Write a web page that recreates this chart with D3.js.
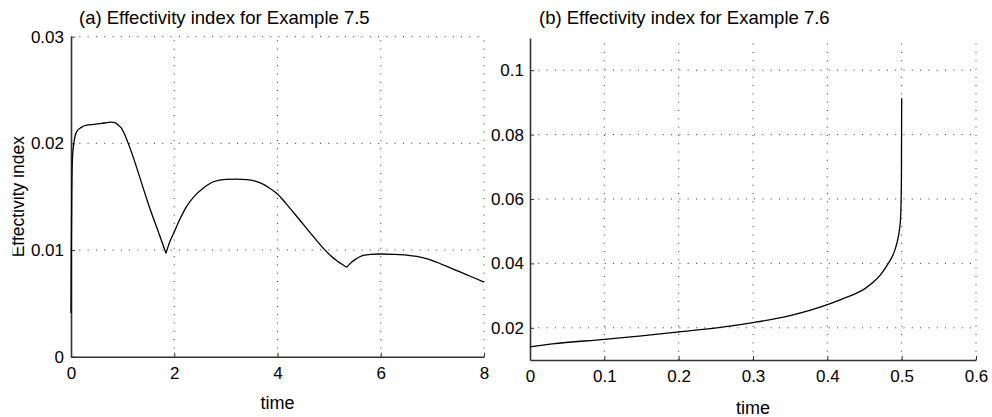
<!DOCTYPE html>
<html>
<head>
<meta charset="utf-8">
<script src="https://cdn.jsdelivr.net/npm/d3@7"></script>
<style>
  body { margin: 0; background: #fff; }
  svg { display: block; font-family: "Liberation Sans", Arial, Helvetica, sans-serif; }
</style>
</head>
<body>
<div id="chart"></div>
<script>
// (a) Example 7.5 - effectivity index over time
var timeA = [0, 0.005, 0.015, 0.03, 0.06, 0.11, 0.2, 0.3, 0.45, 0.6, 0.7, 0.78, 0.85, 0.92, 0.98, 1.06, 1.14, 1.22, 1.3, 1.5, 1.7, 1.84,
             1.9, 2.0, 2.12, 2.24, 2.4, 2.56, 2.76, 3.0, 3.2, 3.4, 3.55, 3.7, 3.85, 4.0, 4.15, 4.31, 4.47, 4.63, 4.76, 4.89, 5.02, 5.15, 5.25, 5.34,
             5.4, 5.5, 5.66, 5.8, 6.0, 6.25, 6.5, 6.7, 6.9, 7.1, 7.28, 7.5, 7.67, 7.85, 8.0];
var effA = [0.0041, 0.0095, 0.0155, 0.0188, 0.0202, 0.0211, 0.0215, 0.0217, 0.02178, 0.02187, 0.02195, 0.0220, 0.02195, 0.0217, 0.0214, 0.0206, 0.0196, 0.0185, 0.0173, 0.0143, 0.0116, 0.0097,
            0.0106, 0.0117, 0.0130, 0.0141, 0.0151, 0.0158, 0.0164, 0.01663, 0.01665, 0.0166, 0.01648, 0.01622, 0.0158, 0.01525, 0.01445, 0.01352, 0.01258, 0.01164, 0.01088, 0.01015, 0.00952, 0.0090, 0.00866, 0.00838,
            0.0087, 0.0091, 0.0095, 0.00960, 0.00963, 0.00960, 0.00953, 0.00940, 0.00918, 0.00883, 0.00847, 0.00802, 0.00767, 0.00731, 0.00700];
var cuspsA = [21, 45]; // indices where the curve has a corner

// (b) Example 7.6
var timeB = [0, 0.03, 0.1, 0.15, 0.2, 0.256, 0.3, 0.35, 0.4, 0.417, 0.435, 0.45, 0.462, 0.472, 0.482, 0.489, 0.4935, 0.497, 0.4985, 0.4993, 0.4997, 0.5];
var effB = [0.0141, 0.0150, 0.0164, 0.0175, 0.0187, 0.0201, 0.0216, 0.0238, 0.0272, 0.0287, 0.0303, 0.0321, 0.0342, 0.0366, 0.0400, 0.0430, 0.0462, 0.0505, 0.0540, 0.0600, 0.0680, 0.0913];

var xTicksA = [0, 2, 4, 6, 8];
var yTicksA = [0, 0.01, 0.02, 0.03];
var xTicksB = [0, 0.1, 0.2, 0.3, 0.4, 0.5, 0.6];
var yTicksB = [0.02, 0.04, 0.06, 0.08, 0.1];

var W = 992, H = 417;

var svg = d3.select("#chart").append("svg")
  .attr("width", W)
  .attr("height", H);

function drawPanel(opt) {
  var x = d3.scaleLinear().domain(opt.xDomain).range(opt.xRange);
  var y = d3.scaleLinear().domain(opt.yDomain).range(opt.yRange);
  var g = svg.append("g");

  // dotted grid
  g.selectAll(".vgrid").data(opt.xTicks.filter(function (d) { return d !== opt.xDomain[0]; }))
    .enter().append("line")
    .attr("x1", function (d) { return x(d); })
    .attr("x2", function (d) { return x(d); })
    .attr("y1", opt.yRange[0])
    .attr("y2", opt.yRange[1])
    .attr("stroke", "#333")
    .attr("stroke-width", 1)
    .attr("stroke-dasharray", "1,7.3");
  g.selectAll(".hgrid").data(opt.yTicks.filter(function (d) { return d !== opt.yDomain[0]; }))
    .enter().append("line")
    .attr("x1", opt.xRange[0])
    .attr("x2", opt.xRange[1])
    .attr("y1", function (d) { return y(d); })
    .attr("y2", function (d) { return y(d); })
    .attr("stroke", "#333")
    .attr("stroke-width", 1)
    .attr("stroke-dasharray", "1,7.3");

  // axes, ticks pointing inward
  var xAxis = g.append("g")
    .attr("transform", "translate(0," + opt.yRange[0] + ")")
    .call(d3.axisBottom(x).tickValues(opt.xTicks).tickFormat(d3.format("")).tickSizeInner(-4).tickSizeOuter(0).tickPadding(10));
  var yAxis = g.append("g")
    .attr("transform", "translate(" + opt.xRange[0] + ",0)")
    .call(d3.axisLeft(y).tickValues(opt.yTicks).tickFormat(d3.format("")).tickSizeInner(-4).tickSizeOuter(0).tickPadding(opt.yPad));

  [xAxis, yAxis].forEach(function (a) {
    a.select(".domain").attr("stroke", "#333").attr("stroke-width", 1.6);
    a.selectAll(".tick line").attr("stroke", "#333");
    a.selectAll(".tick text").attr("fill", "#000").style("font-size", "17px");
    a.attr("font-family", null);
  });

  // curve, split at corners
  var line = d3.line()
    .x(function (d) { return x(d[0]); })
    .y(function (d) { return y(d[1]); })
    .curve(d3.curveMonotoneX);
  var pts = opt.times.map(function (t, i) { return [t, opt.values[i]]; });
  var cuts = [0].concat(opt.cusps || [], [pts.length - 1]);
  for (var i = 0; i < cuts.length - 1; i++) {
    g.append("path")
      .attr("d", line(pts.slice(cuts[i], cuts[i + 1] + 1)))
      .attr("fill", "none")
      .attr("stroke", "#000")
      .attr("stroke-width", 1.3);
  }

  // title and x label
  g.append("text")
    .attr("x", opt.titleX)
    .attr("y", 24)
    .style("font-size", "18.5px")
    .text(opt.title);
  g.append("text")
    .attr("x", (opt.xRange[0] + opt.xRange[1]) / 2)
    .attr("y", opt.xLabelY)
    .attr("text-anchor", "middle")
    .style("font-size", "18px")
    .text("time");
  return g;
}

drawPanel({
  xDomain: [0, 8], yDomain: [0, 0.03],
  xRange: [71, 484], yRange: [356.7, 36.7],
  xTicks: xTicksA, yTicks: yTicksA, yPad: 7,
  times: timeA, values: effA, cusps: cuspsA,
  title: "(a) Effectivity index for Example 7.5", titleX: 79, xLabelY: 409
});

drawPanel({
  xDomain: [0, 0.6], yDomain: [0.01, 0.11],
  xRange: [530, 976], yRange: [360, 38],
  xTicks: xTicksB, yTicks: yTicksB, yPad: 6,
  times: timeB, values: effB,
  title: "(b) Effectivity index for Example 7.6", titleX: 539, xLabelY: 413.5
});

// y label of panel (a), its top is cut off in the original
svg.append("clipPath").attr("id", "ylabClip")
  .append("rect").attr("x", 12.5).attr("y", 0).attr("width", 60).attr("height", H);
svg.append("g")
  .attr("clip-path", "url(#ylabClip)")
  .append("text")
  .attr("transform", "translate(24,196.7) rotate(-90)")
  .attr("text-anchor", "middle")
  .style("font-size", "17.5px")
  .text("Effectivity index");
</script>
</body>
</html>
